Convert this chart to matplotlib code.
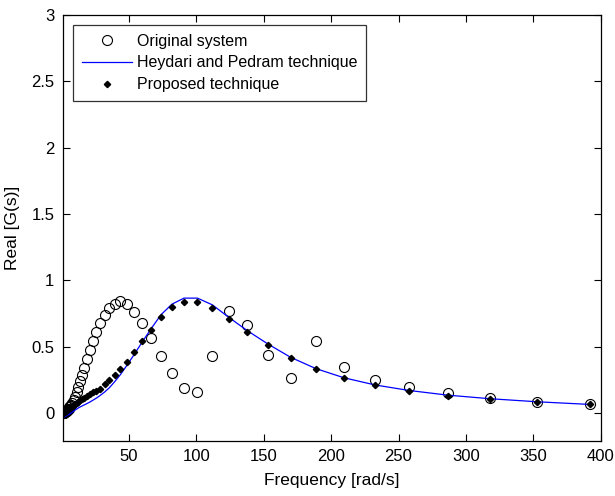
import matplotlib
matplotlib.use("Agg")
import matplotlib.pyplot as plt

# frequencies (rad/s)
freq = [1.0, 1.1, 1.25, 1.4, 1.5, 1.7, 1.9, 2.1, 2.4, 2.6, 2.9, 3.2, 3.6, 4.0, 4.4,
        4.9, 5.4, 6.0, 6.7, 7.4, 8.2, 9.1, 10.1, 11.3, 12.5, 13.9, 15.4, 17.1, 19.0,
        21.1, 23.4, 26.0, 28.8, 32.0, 35.5, 39.4, 43.8, 48.6, 53.9, 59.9, 66.5, 73.8,
        81.9, 90.9, 100.9, 112.0, 124.3, 138.0, 153.2, 170.0, 188.7, 209.5, 232.5,
        258.0, 286.5, 318.0, 353.0, 392.0]

original = [0.0, 0.001, 0.001, 0.002, 0.002, 0.003, 0.004, 0.005, 0.006, 0.008, 0.010,
            0.012, 0.015, 0.019, 0.023, 0.028, 0.034, 0.042, 0.052, 0.064, 0.079, 0.098,
            0.122, 0.155, 0.195, 0.240, 0.286, 0.337, 0.405, 0.475, 0.545, 0.613, 0.676,
            0.738, 0.789, 0.820, 0.846, 0.820, 0.760, 0.676, 0.563, 0.430, 0.299, 0.190,
            0.160, 0.430, 0.771, 0.660, 0.437, 0.264, 0.545, 0.349, 0.246, 0.194, 0.148,
            0.115, 0.085, 0.065]

heydari = [-0.035, -0.035, -0.034, -0.034, -0.033, -0.032, -0.031, -0.030, -0.029,
           -0.027, -0.026, -0.024, -0.021, -0.019, -0.017, -0.014, -0.011, -0.007,
           -0.003, 0.002, 0.008, 0.015, 0.022, 0.030, 0.038, 0.046, 0.054, 0.062, 0.072,
           0.083, 0.097, 0.113, 0.133, 0.158, 0.190, 0.235, 0.290, 0.360, 0.440, 0.535,
           0.635, 0.740, 0.820, 0.866, 0.866, 0.815, 0.720, 0.620, 0.520, 0.420, 0.335,
           0.266, 0.212, 0.170, 0.135, 0.108, 0.085, 0.065]

proposed = [0.0, 0.001, 0.002, 0.003, 0.004, 0.005, 0.007, 0.009, 0.011, 0.013, 0.015,
            0.018, 0.021, 0.024, 0.027, 0.031, 0.035, 0.039, 0.044, 0.049, 0.055, 0.061,
            0.068, 0.076, 0.085, 0.095, 0.105, 0.117, 0.130, 0.143, 0.156, 0.170, 0.185,
            0.220, 0.252, 0.290, 0.335, 0.387, 0.462, 0.540, 0.625, 0.726, 0.801, 0.834,
            0.834, 0.789, 0.706, 0.608, 0.512, 0.413, 0.330, 0.263, 0.209, 0.168, 0.130,
            0.105, 0.085, 0.065]

xticks = [50, 100, 150, 200, 250, 300, 350, 400]
yticks = [0, 0.5, 1, 1.5, 2, 2.5, 3]
ytick_labels = ["0", "0.5", "1", "1.5", "2", "2.5", "3"]

plt.rcParams["font.family"] = ["Liberation Sans", "DejaVu Sans"]

fig = plt.figure(figsize=(6.15, 4.96), dpi=100)
ax = fig.add_axes([0.102, 0.111, 0.875, 0.859])

ax.plot(freq, original, linestyle="none", marker="o", markersize=7.2,
        markerfacecolor="none", markeredgecolor="black", markeredgewidth=0.8,
        label="Original system")
ax.plot(freq, heydari, color="#0000ff", linewidth=0.9, label="Heydari and Pedram technique")
ax.plot(freq, proposed, linestyle="none", marker="D", markersize=3.2,
        color="black", label="Proposed technique")

ax.set_xlim(1, 400)
ax.set_ylim(-0.21, 3)
ax.set_xticks(xticks)
ax.set_yticks(yticks)
ax.set_yticklabels(ytick_labels)
ax.tick_params(direction="in", length=5, width=0.8, top=True, right=True,
               labelsize=12, pad=6)
for s in ax.spines.values():
    s.set_linewidth(0.9)

ax.set_xlabel("Frequency [rad/s]", fontsize=12.5, labelpad=6)
ax.set_ylabel("Real [G(s)]", fontsize=12.5, labelpad=8)

leg = ax.legend(loc="upper left", bbox_to_anchor=(0.02, 0.9765), fontsize=11.5,
                frameon=True, fancybox=False, handlelength=3.1, handletextpad=0.3,
                borderpad=0.55, labelspacing=0.42, borderaxespad=0.0)
leg.get_frame().set_edgecolor("black")
leg.get_frame().set_linewidth(0.9)

fig.savefig("out.png", dpi=100)
